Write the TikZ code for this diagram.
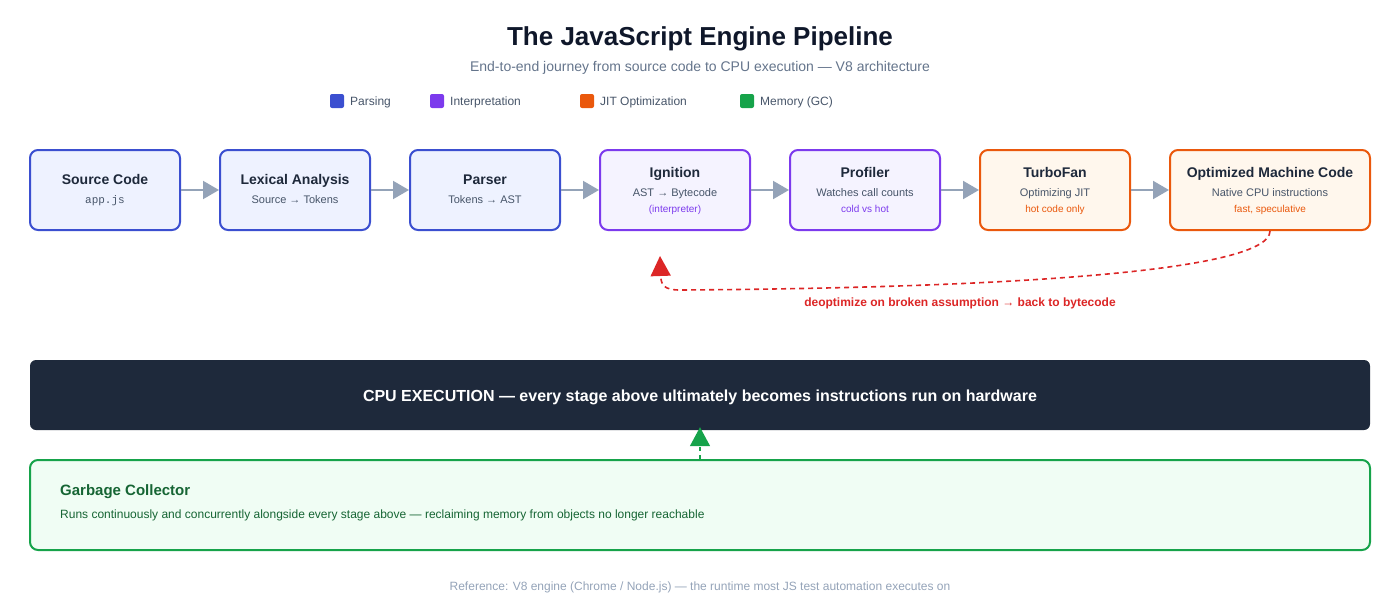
\documentclass[tikz,border=0pt]{standalone}
\usepackage{fontspec}
\setmainfont{Liberation Sans}
\setmonofont{Liberation Mono}
\usetikzlibrary{arrows.meta}
\definecolor{pblue}{HTML}{3B4FD0}
\definecolor{pbluef}{HTML}{EEF2FF}
\definecolor{ppur}{HTML}{7C3AED}
\definecolor{ppurf}{HTML}{F5F3FF}
\definecolor{porg}{HTML}{EA580C}
\definecolor{porgf}{HTML}{FFF7ED}
\definecolor{pgrn}{HTML}{16A34A}
\definecolor{pgrnf}{HTML}{F0FDF4}
\definecolor{gctext}{HTML}{166534}
\definecolor{dark}{HTML}{1E293B}
\definecolor{titlec}{HTML}{0F172A}
\definecolor{subc}{HTML}{64748B}
\definecolor{legc}{HTML}{475569}
\definecolor{arrc}{HTML}{94A3B8}
\definecolor{redc}{HTML}{DC2626}
\definecolor{boxtitle}{HTML}{1E293B}
\definecolor{boxsub}{HTML}{475569}
\tikzset{
  stage/.style={draw, line width=2pt, rounded corners=8pt, minimum width=150pt, minimum height=80pt, inner sep=0pt},
  parse/.style={stage, draw=pblue, fill=pbluef},
  interp/.style={stage, draw=ppur, fill=ppurf},
  jit/.style={stage, draw=porg, fill=porgf},
  txt/.style={anchor=base, inner sep=0pt},
  ttl/.style={txt, font=\fontsize{14}{16}\selectfont\bfseries, text=boxtitle},
  sub/.style={txt, font=\fontsize{11}{13}\selectfont, text=boxsub},
  third/.style={txt, font=\fontsize{10}{12}\selectfont},
  flow/.style={draw=arrc, line width=2pt, -{Triangle[length=16pt,width=18pt]}},
  legsq/.style={fill=#1, rounded corners=2pt, minimum size=14pt, inner sep=0pt},
  legtx/.style={font=\fontsize{12}{14}\selectfont, text=legc, anchor=base west, inner sep=0pt},
}
\begin{document}
\begin{tikzpicture}[x=1pt,y=-1pt]
\useasboundingbox (0,0) rectangle (1400,610);
% title
\node[txt, font=\fontsize{26}{30}\selectfont\bfseries, text=titlec] (title) at (700,46) {The JavaScript Engine Pipeline};
\node[txt, font=\fontsize{14}{16}\selectfont, text=subc] (subtitle) at (700,72) {End-to-end journey from source code to CPU execution — V8 architecture};
% legend
\node[legsq=pblue] (lg1) at (337,101) {};
\node[legtx] (lt1) at (350,105.3) {Parsing};
\node[legsq=ppur] (lg2) at (437,101) {};
\node[legtx] (lt2) at (450,105.3) {Interpretation};
\node[legsq=porg] (lg3) at (587,101) {};
\node[legtx] (lt3) at (600,105.3) {JIT Optimization};
\node[legsq=pgrn] (lg4) at (747,101) {};
\node[legtx] (lt4) at (760,105.3) {Memory (GC)};
% stages
\node[parse] (src) at (105,190) {};
\node[ttl] (srct) at (105,184) {Source Code};
\node[sub, font=\fontsize{11}{13}\selectfont\ttfamily] (srcs) at (105,203) {app.js};

\node[parse] (lex) at (295,190) {};
\node[ttl] (lext) at (295,184) {Lexical Analysis};
\node[sub] (lexs) at (295,203) {Source → Tokens};

\node[parse] (par) at (485,190) {};
\node[ttl] (part) at (485,184) {Parser};
\node[sub] (pars) at (485,203) {Tokens → AST};

\node[interp] (ign) at (675,190) {};
\node[ttl] (ignt) at (675,177) {Ignition};
\node[sub] (igns) at (675,196) {AST → Bytecode};
\node[third, text=ppur] (ign3) at (675,212) {(interpreter)};

\node[interp] (prof) at (865,190) {};
\node[ttl] (proft) at (865,177) {Profiler};
\node[sub] (profs) at (865,196) {Watches call counts};
\node[third, text=ppur] (prof3) at (865,212) {cold vs hot};

\node[jit] (tf) at (1055,190) {};
\node[ttl] (tft) at (1055,177) {TurboFan};
\node[sub] (tfs) at (1055,196) {Optimizing JIT};
\node[third, text=porg] (tf3) at (1055,212) {hot code only};

\node[jit, minimum width=200pt] (omc) at (1270,190) {};
\node[ttl] (omct) at (1270,177) {Optimized Machine Code};
\node[sub] (omcs) at (1270,196) {Native CPU instructions};
\node[third, text=porg] (omc3) at (1270,212) {fast, speculative};
% flow arrows
\draw[flow] (src.east) -- (lex.west);
\draw[flow] (lex.east) -- (par.west);
\draw[flow] (par.east) -- (ign.west);
\draw[flow] (ign.east) -- (prof.west);
\draw[flow] (prof.east) -- (tf.west);
\draw[flow] (tf.east) -- (omc.west);
% deopt
\coordinate (deoptend) at (660,256);
\draw[redc, line width=1.6pt, dash pattern=on 5pt off 4pt, -{Triangle[length=20pt,width=20pt]}]
  (omc.south) .. controls (1270,272) and (1000,288) .. (680,290)
  .. controls (664,290) and (661,285) .. (deoptend);
\node[txt, font=\fontsize{12}{14}\selectfont\bfseries, text=redc] (deoptlbl) at (960,306) {deoptimize on broken assumption → back to bytecode};
% CPU bar
\node[fill=dark, rounded corners=6pt, minimum width=1340pt, minimum height=70pt, inner sep=0pt] (cpu) at (700,395) {};
\node[txt, font=\fontsize{16}{18}\selectfont\bfseries, text=white] (cput) at (700,401) {CPU EXECUTION — every stage above ultimately becomes instructions run on hardware};
% GC
\node[draw=pgrn, fill=pgrnf, line width=2pt, rounded corners=8pt, minimum width=1340pt, minimum height=90pt, inner sep=0pt] (gc) at (700,505) {};
\node[font=\fontsize{15}{17}\selectfont\bfseries, text=gctext, anchor=base west, inner sep=0pt] (gct) at (60,495) {Garbage Collector};
\node[font=\fontsize{12}{14}\selectfont, text=gctext, anchor=base west, inner sep=0pt] (gcs) at (60,518) {Runs continuously and concurrently alongside every stage above — reclaiming memory from objects no longer reachable};
\draw[pgrn, line width=1.6pt, dash pattern=on 4pt off 4pt, -{Triangle[length=19pt,width=20pt]}] (gc.north) -- ([yshift=3pt]cpu.south);
% footer
\node[txt, font=\fontsize{12}{14}\selectfont, text=arrc] (footer) at (700,590) {Reference: V8 engine (Chrome / Node.js) — the runtime most JS test automation executes on};
\end{tikzpicture}
\end{document}
